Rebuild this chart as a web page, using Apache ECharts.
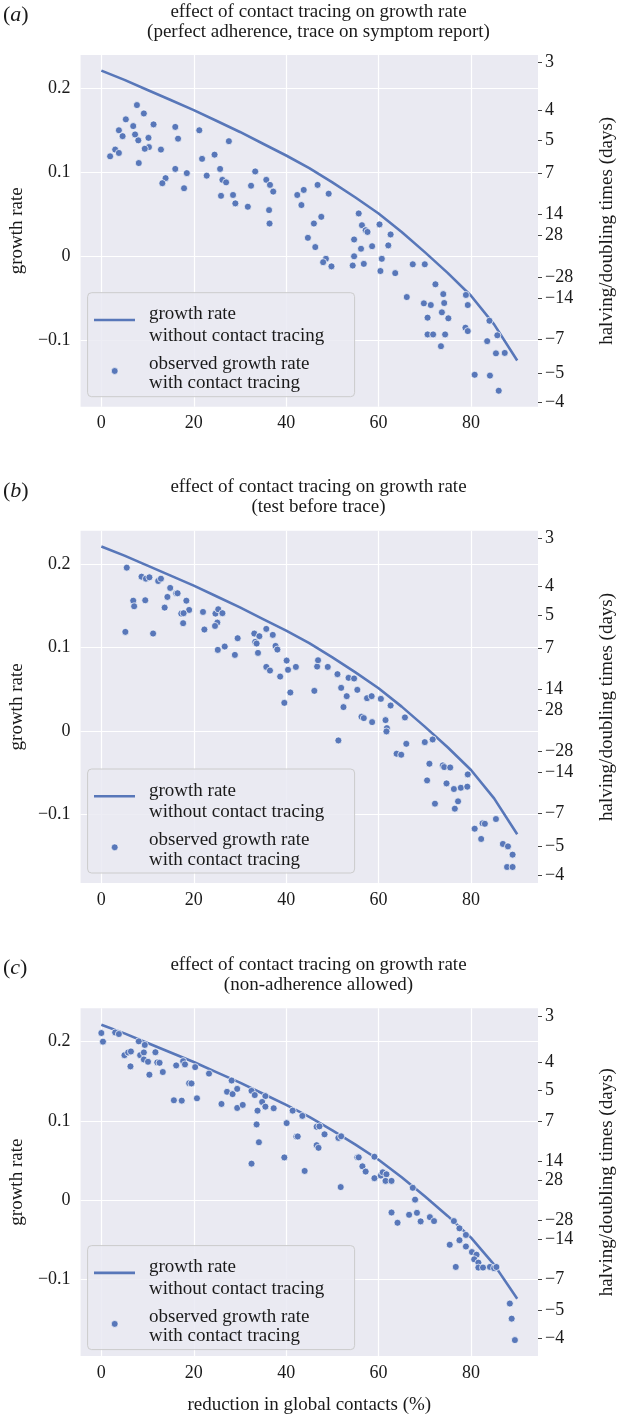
<!DOCTYPE html>
<html><head><meta charset="utf-8">
<script src="https://cdn.jsdelivr.net/npm/echarts@6/dist/echarts.min.js"></script>
<style>html,body{margin:0;padding:0;background:#fff}#c{width:625px;height:1416px}</style>
</head><body><div id="c"></div><script>
// ---------- data ----------
const reductionPct = [0,5,10,15,20,25,30,35,40,45,50,55,60,65,70,75,80,85,90];
const growthNoTracing = [0.221,0.210,0.198,0.186,0.174,0.161,0.148,0.134,0.120,0.105,0.088,0.070,0.051,0.029,0.005,-0.020,-0.047,-0.081,-0.124];

const observedA = [[7.7,0.180],[9.2,0.170],[5.3,0.163],[11.3,0.157],[6.9,0.155],[3.8,0.150],[7.3,0.145],[4.6,0.143],[10.2,0.141],[8.0,0.138],[16.0,0.154],[16.6,0.140],[21.2,0.150],[27.6,0.137],[10.3,0.130],[9.4,0.128],[12.9,0.127],[3.0,0.127],[3.8,0.123],[1.9,0.119],[8.1,0.111],[21.8,0.116],[24.5,0.121],[16.0,0.104],[25.7,0.104],[13.9,0.093],[13.2,0.087],[18.5,0.099],[17.9,0.081],[22.8,0.096],[26.2,0.091],[27.0,0.088],[33.3,0.101],[32.4,0.084],[25.9,0.072],[28.5,0.073],[29.0,0.063],[31.7,0.059],[35.7,0.091],[36.5,0.085],[37.2,0.077],[36.3,0.055],[36.4,0.039],[42.4,0.073],[43.8,0.079],[43.3,0.061],[46.8,0.085],[46.0,0.039],[44.7,0.022],[46.3,0.011],[47.6,0.047],
[49.2,0.0745],[48.6,-0.003],[48.0,-0.007],[49.8,-0.012],[55.7,0.051],[56.4,0.037],[57.2,0.031],[57.6,0.029],[54.7,0.020],[56.2,0.009],[58.6,0.012],[60.2,0.038],[62.6,0.026],[62.1,0.013],[60.7,-0.003],[54.7,0.000],[54.4,-0.011],[56.8,-0.009],[60.4,-0.0175],[63.6,-0.020],[67.4,-0.0095],[70.0,-0.0095],[66.1,-0.0485],[72.3,-0.0333],[74.0,-0.045],[69.8,-0.056],[71.3,-0.058],[74.2,-0.0556],[73.7,-0.0667],[70.6,-0.073],[75.1,-0.0738],[70.6,-0.093],[71.8,-0.093],[74.4,-0.093],[73.5,-0.107],[78.9,-0.046],[79.3,-0.058],[78.8,-0.085],[79.3,-0.089],[84.0,-0.0767],[83.5,-0.101],[85.7,-0.094],[85.4,-0.1155],[87.3,-0.115],[80.8,-0.141],[84.1,-0.142],[86.0,-0.160]];

const observedB = [[5.5,0.1956],[8.7,0.1848],[9.65,0.1824],[10.4,0.184],[12.3,0.1796],[12.9,0.1824],[14.9,0.1713],[16.2,0.1649],[16.5,0.1649],[14.3,0.1605],[18.4,0.156],[6.9,0.156],[9.5,0.1565],[7.1,0.1493],[13.7,0.1477],[19.0,0.1449],[17.3,0.1405],[17.8,0.141],[17.7,0.129],[5.2,0.1186],[11.2,0.1166],[22.0,0.1425],[22.3,0.1214],[24.7,0.1405],[25.3,0.1457],[26.2,0.141],[25.1,0.1297],[24.6,0.1257],[29.5,0.111],[25.2,0.097],[26.7,0.101],[28.9,0.091],[33.1,0.1166],[34.2,0.1134],[35.7,0.1222],[37.1,0.115],[33.3,0.1066],[33.6,0.1046],[37.7,0.1018],[38.1,0.0974],[33.9,0.0934],[35.7,0.0766],[36.5,0.0722],[40.1,0.0842],[40.4,0.0731],[42.1,0.0766],[38.7,0.065],[40.9,0.0459],[39.6,0.0335],[46.1,0.0479],[46.7,0.0770],[46.9,0.0846],
[49.0,0.0766],[51.1,0.0679],[53.5,0.0635],[54.7,0.0627],[51.9,0.0515],[55.4,0.0491],[53.1,0.0415],[57.5,0.0391],[58.5,0.0415],[60.5,0.0383],[52.4,0.0284],[62.6,0.0303],[56.3,0.0168],[56.8,0.0152],[58.6,0.0104],[61.5,0.0128],[61.8,0.0032],[61.7,-0.0008],[65.7,0.016],[51.3,-0.0116],[66.0,-0.0156],[63.9,-0.0275],[64.9,-0.0287],[70.0,-0.0136],[71.7,-0.0104],[71.0,-0.0395],[73.9,-0.0415],[74.2,-0.0435],[75.5,-0.044],[70.5,-0.0595],[74.7,-0.0631],[76.3,-0.0698],[77.8,-0.0683],[79.2,-0.067],[79.3,-0.0523],[77.2,-0.0846],[72.2,-0.0874],[76.5,-0.0934],[80.8,-0.1174],[82.5,-0.111],[83.0,-0.1115],[82.2,-0.1297],[85.4,-0.1058],[86.9,-0.1357],[88.0,-0.1386],[89.0,-0.1485],[87.8,-0.1633],[89.0,-0.1633]];

const observedC = [[0.0,0.2105],[0.35,0.1996],[3.0,0.2112],[3.8,0.2092],[8.1,0.200],[9.4,0.1955],[5.0,0.1826],[5.8,0.186],[6.4,0.1872],[8.4,0.1826],[9.2,0.186],[9.2,0.1772],[10.1,0.1743],[6.3,0.1685],[11.7,0.1863],[12.1,0.1735],[12.6,0.173],[10.4,0.158],[13.3,0.1614],[16.2,0.1697],[17.7,0.1751],[18.1,0.171],[20.3,0.1676],[23.3,0.1594],[19.0,0.1473],[19.5,0.147],[15.7,0.1258],[17.4,0.1254],[20.7,0.1283],[28.2,0.1507],[27.2,0.1365],[28.4,0.1336],[29.4,0.1402],[26.0,0.1212],[29.4,0.1162],[30.6,0.120],[32.5,0.1377],[33.2,0.1324],[35.5,0.1311],[34.8,0.1237],[35.5,0.1178],[33.8,0.1128],[37.3,0.1158],[33.6,0.0954],[34.1,0.073],[32.5,0.0461],[41.4,0.1128],[43.5,0.1062],[40.1,0.0971],[42.2,0.0801],[42.5,0.0803],[39.6,0.0539],[44.0,0.0369],[46.6,0.0925],[46.6,0.0693],
[47.2,0.093],[48.3,0.083],[47.0,0.066],[51.3,0.0785],[51.9,0.0805],[51.8,0.0166],[55.4,0.054],[55.7,0.054],[59.1,0.0548],[56.5,0.0427],[57.2,0.0361],[59.1,0.0278],[60.5,0.0311],[60.9,0.0352],[61.7,0.0327],[61.5,0.0244],[62.8,0.0244],[67.4,0.0157],[67.9,0.0008],[62.8,-0.0154],[64.1,-0.0283],[66.6,-0.0183],[68.3,-0.0158],[69.1,-0.0266],[71.1,-0.0212],[72.0,-0.0262],[76.3,-0.0262],[77.5,-0.0353],[78.9,-0.0436],[77.5,-0.0503],[75.4,-0.056],[78.9,-0.0582],[80.2,-0.0652],[81.2,-0.0685],[80.7,-0.0743],[81.6,-0.0785],[81.6,-0.0847],[82.6,-0.0847],[84.1,-0.0839],[85.0,-0.0855],[85.5,-0.084],[76.7,-0.0839],[88.4,-0.130],[88.8,-0.149],[89.5,-0.176]];

const xTicks = [0,20,40,60,80];
const yTicks = [-0.1,0,0.1,0.2];
const doublingTimes = [3,4,5,7,14,28,-28,-14,-7,-5,-4];
const panelLetters = ['a','b','c'];
const mainTitle = 'effect of contact tracing on growth rate';
const subTitles = ['(perfect adherence, trace on symptom report)','(test before trace)','(non-adherence allowed)'];
const legendLine = ['growth rate','without contact tracing'];
const legendDots = ['observed growth rate','with contact tracing'];
const yLabel = 'growth rate';
const y2Label = 'halving/doubling times (days)';
const xLabel = 'reduction in global contacts (%)';
const yRanges = [[-0.179,0.2396],[-0.1825,0.2398],[-0.196,0.2416]];
const xRange = [-4.5,94.5];
const observed = [observedA, observedB, observedC];

// ---------- layout / style ----------
const FONT = "'Liberation Serif','Times New Roman',serif";
const BLUE = '#5877b9';
const TXT = '#1a1a1a';
const gridLeft = 77.4, gridRight = 65.5;
const panels = [{top:55, bottom:406.7},{top:530.8, bottom:883},{top:1008.3, bottom:1359.6}];
const minus = s => String(s).replace('-', '\u2212');

const grid = [], xAxis = [], yAxis = [], series = [], graphic = [];
panels.forEach((p, i) => {
  grid.push({left: gridLeft, right: gridRight, top: p.top, height: p.bottom - p.top,
    show: true, backgroundColor: '#EAEAF2', borderWidth: 0});
  xAxis.push({type:'value', gridIndex:i, min:xRange[0], max:xRange[1],
    axisLine:{show:false}, axisTick:{show:false, customValues:xTicks},
    axisLabel:{customValues:xTicks, fontSize:18, fontFamily:FONT, color:TXT, margin:8},
    splitLine:{show:true, lineStyle:{color:'#ffffff', width:1.2}},
    name: i === 2 ? xLabel : '', nameLocation:'middle', nameGap:40,
    nameTextStyle:{fontSize:19, fontFamily:FONT, color:TXT}});
  yAxis.push({type:'value', gridIndex:i, min:yRanges[i][0], max:yRanges[i][1],
    axisLine:{show:false}, axisTick:{show:false, customValues:yTicks},
    axisLabel:{customValues:yTicks, fontSize:18, fontFamily:FONT, color:TXT, margin:10,
      formatter: v => minus(Math.round(v*10)/10)},
    splitLine:{show:true, lineStyle:{color:'#ffffff', width:1.2}},
    name: yLabel, nameLocation:'middle', nameGap:52, nameRotate:90,
    nameTextStyle:{fontSize:19, fontFamily:FONT, color:TXT}});
  const r2 = doublingTimes.map(T => Math.LN2 / T);
  yAxis.push({type:'value', gridIndex:i, position:'right', min:yRanges[i][0], max:yRanges[i][1],
    axisLine:{show:false},
    axisTick:{show:true, customValues:r2, length:4, lineStyle:{color:'#444', width:1}},
    axisLabel:{customValues:r2, fontSize:18, fontFamily:FONT, color:TXT, margin:7,
      formatter: v => minus(Math.round(Math.LN2 / v))},
    splitLine:{show:false},
    name: y2Label, nameLocation:'middle', nameGap:60, nameRotate:90,
    nameTextStyle:{fontSize:19, fontFamily:FONT, color:TXT}});
  series.push({type:'line', xAxisIndex:i, yAxisIndex:2*i, smooth:false,
    showSymbol:false, silent:true,
    lineStyle:{color:BLUE, width:2.6, join:'round'},
    data: reductionPct.map((x, k) => [x, growthNoTracing[k]]), z:2});
  series.push({type:'scatter', xAxisIndex:i, yAxisIndex:2*i, symbolSize:7,
    itemStyle:{color:BLUE, borderColor:'#ffffff', borderWidth:0.7, opacity:1},
    data: observed[i], z:3});

  // titles and panel letter
  graphic.push({type:'text', x:318.5, y:p.top-43.3, z:10,
    style:{text:mainTitle, fontSize:19, fontFamily:FONT, fill:TXT, align:'center', verticalAlign:'middle'}});
  graphic.push({type:'text', x:318.5, y:p.top-23.3, z:10,
    style:{text:subTitles[i], fontSize:19, fontFamily:FONT, fill:TXT, align:'center', verticalAlign:'middle'}});
  graphic.push({type:'text', x:3, y:p.top-40, z:10,
    style:{text:'({i|' + panelLetters[i] + '})', fontSize:22, fontFamily:FONT, fill:TXT, verticalAlign:'middle',
      rich:{i:{fontStyle:'italic', fontSize:22, fontFamily:FONT, fill:TXT}}}});

  // legend box
  const bx = gridLeft + 10.2, by = p.bottom - 10 - 104;
  graphic.push({type:'rect', z:20, shape:{x:bx, y:by, width:267, height:104, r:4},
    style:{fill:'rgba(234,234,242,0.85)', stroke:'#cccccc', lineWidth:1}});
  graphic.push({type:'line', z:21, shape:{x1:bx+6.4, y1:by+27.3, x2:bx+47.4, y2:by+27.3},
    style:{stroke:BLUE, lineWidth:2.6}});
  graphic.push({type:'circle', z:21, shape:{cx:bx+27.1, cy:by+78.3, r:3.4},
    style:{fill:BLUE, stroke:'#fff', lineWidth:0.6}});
  [[legendLine[0],21.6],[legendLine[1],43],[legendDots[0],71.3],[legendDots[1],90.6]].forEach(([t, dy]) => {
    graphic.push({type:'text', z:21, x:bx+61.4, y:by+dy,
      style:{text:t, fontSize:19, fontFamily:FONT, fill:TXT, align:'left', verticalAlign:'middle'}});
  });
});

const chart = echarts.init(document.getElementById('c'), null, {renderer:'canvas'});
chart.setOption({animation:false, backgroundColor:'#ffffff', grid, xAxis, yAxis, series, graphic});
</script></body></html>
